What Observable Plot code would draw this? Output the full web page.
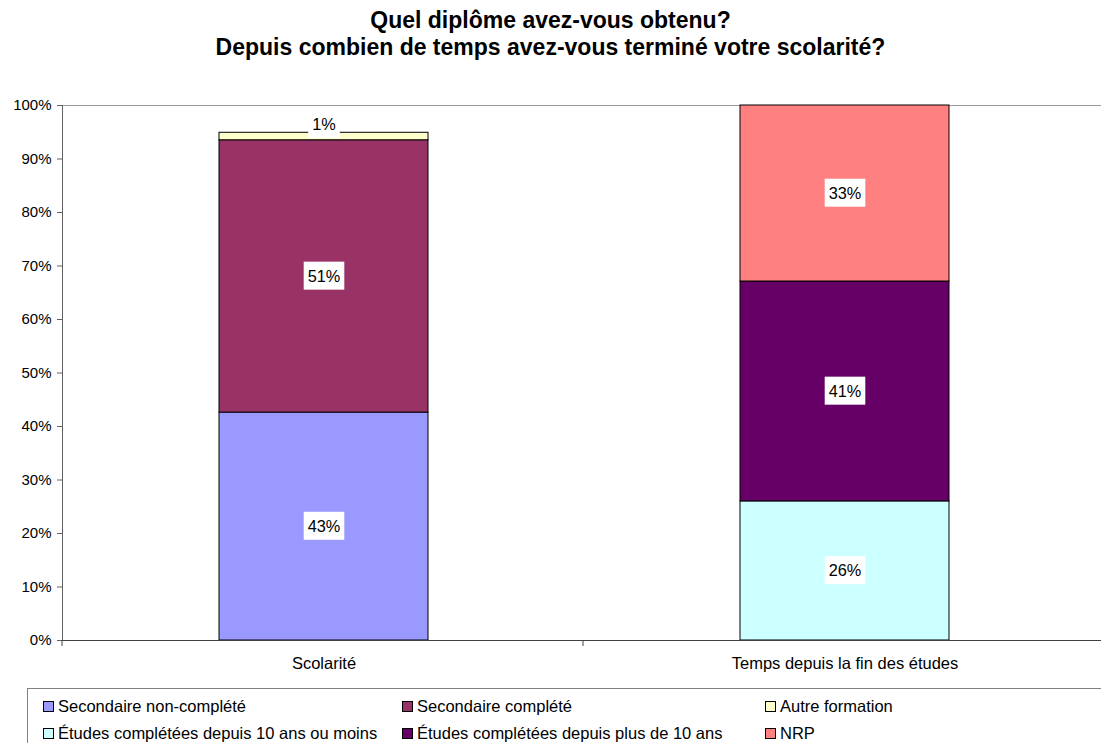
<!DOCTYPE html>
<html>
<head>
<meta charset="utf-8">
<script src="https://cdn.jsdelivr.net/npm/d3@7"></script>
<script src="https://cdn.jsdelivr.net/npm/@observablehq/plot@0.6"></script>
<style>
  html, body { margin: 0; padding: 0; background: #fff; font-family: "Liberation Sans", Arial, sans-serif; overflow: hidden; }
  #title { height: 70px; text-align: center; font-weight: bold; font-size: 23px; line-height: 27px; padding-top: 7px; box-sizing: border-box; color: #000; }
  #legend { position: absolute; left: 27px; top: 688px; width: 1090px; height: 70px; border: 1px solid #808080; box-sizing: border-box;
            display: grid; grid-template-columns: 359px 363px auto; grid-auto-rows: 27px; padding-left: 15px; padding-top: 4px; font-size: 16.5px; color: #000; }
  .item { display: flex; align-items: center; white-space: nowrap; }
  .sw { width: 9px; height: 9px; border: 1px solid #000; margin-right: 4px; flex: none; }
</style>
</head>
<body>
<div id="title">Quel diplôme avez-vous obtenu?<br>Depuis combien de temps avez-vous terminé votre scolarité?</div>
<div id="chart"></div>
<div id="legend"></div>
<script>
const categories = ["Scolarité", "Temps depuis la fin des études"];
const seriesScolarite = ["Secondaire non-complété", "Secondaire complété", "Autre formation"];
const seriesTemps = ["Études complétées depuis 10 ans ou moins", "Études complétées depuis plus de 10 ans", "NRP"];
const colorsScolarite = ["#9999FF", "#993366", "#FFFFCC"];
const colorsTemps = ["#CCFFFF", "#660066", "#FF8080"];
const valuesScolarite = [42.6, 50.9, 1.4];
const valuesTemps = [26.0, 41.1, 32.9];
const yTicks = [0, 10, 20, 30, 40, 50, 60, 70, 80, 90, 100];

const allSeries = [...seriesScolarite, ...seriesTemps];
const allColors = [...colorsScolarite, ...colorsTemps];
const data = [
  ...seriesScolarite.map((s, i) => ({cat: categories[0], series: s, value: valuesScolarite[i]})),
  ...seriesTemps.map((s, i) => ({cat: categories[1], series: s, value: valuesTemps[i]}))
];
const fmt = v => Math.round(v) + "%";

const W = 1101, ML = 62, MR = -5;

const chart = Plot.plot({
  width: W, height: 610,
  marginLeft: ML, marginRight: MR, marginTop: 35, marginBottom: 40,
  style: {fontFamily: "'Liberation Sans', Arial, sans-serif", fontSize: "15px", color: "#000", background: "#fff", overflow: "hidden"},
  x: {domain: categories, paddingInner: 0.599, paddingOuter: 0.301, label: null},
  y: {domain: [0, 100], label: null},
  color: {domain: allSeries, range: allColors},
  marks: [
    Plot.ruleY([100], {stroke: "#999", strokeWidth: 1}),
    Plot.barY(data, Plot.stackY({x: "cat", y: "value", fill: "series", stroke: "#000", strokeWidth: 1, order: allSeries})),
    Plot.text(data, Plot.stackY({x: "cat", y: "value", z: "series", order: allSeries,
      text: d => d.value >= 5 ? fmt(d.value) : "", fontSize: 16.3, fill: "#000", className: "lbl"})),
    Plot.text(data, Plot.stackY({x: "cat", y: "value", z: "series", order: allSeries,
      text: d => d.value < 5 ? fmt(d.value) : "", fontSize: 16.3, fill: "#000", dy: -12, className: "lbl"})),
    Plot.frame({anchor: "left", stroke: "#606060"}),
    Plot.frame({anchor: "bottom", stroke: "#404040"}),
    Plot.axisY({ticks: yTicks, tickFormat: d => d + "%", tickSize: 5, tickPadding: 6, stroke: "#606060", fontSize: 15}),
    Plot.axisX({tickSize: 0, tickPadding: 17, fontSize: 16.5}),
    Plot.ruleX([categories[0], categories[1], categories[1]], {
      x: d => d, y1: 0, y2: 0, stroke: "#404040"
    })
  ]
});
document.getElementById("chart").appendChild(chart);

// boundary ticks on x axis: move rules to band edges
{
  const groups = chart.querySelectorAll("g[aria-label='rule']");
  const g = groups[groups.length - 1];
  g.removeAttribute("transform");
  const lines = g.querySelectorAll("line");
  const xs = chart.scale("x");
  const edges = [ML, ML + xs.step, ML + 2 * xs.step];
  const y = chart.scale("y").apply(0);
  lines.forEach((ln, i) => {
    ln.removeAttribute("transform");
    ln.setAttribute("x1", edges[i]); ln.setAttribute("x2", edges[i]);
    ln.setAttribute("y1", y); ln.setAttribute("y2", y + 6);
  });
}

// white boxes behind data labels
chart.querySelectorAll(".lbl text").forEach(t => {
  if (!t.textContent) return;
  const b = t.getBBox();
  if (!b.width) return;
  const r = document.createElementNS("http://www.w3.org/2000/svg", "rect");
  r.setAttribute("x", b.x - 4); r.setAttribute("y", b.y - 5);
  r.setAttribute("width", b.width + 8); r.setAttribute("height", b.height + 10);
  r.setAttribute("fill", "#fff");
  const tr = t.getAttribute("transform"); if (tr) r.setAttribute("transform", tr);
  t.parentNode.insertBefore(r, t);
});

// legend
const legend = document.getElementById("legend");
allSeries.forEach((s, i) => {
  const it = document.createElement("div"); it.className = "item";
  const sw = document.createElement("span"); sw.className = "sw"; sw.style.background = allColors[i];
  const tx = document.createElement("span"); tx.textContent = s;
  it.appendChild(sw); it.appendChild(tx); legend.appendChild(it);
});
</script>
</body>
</html>
